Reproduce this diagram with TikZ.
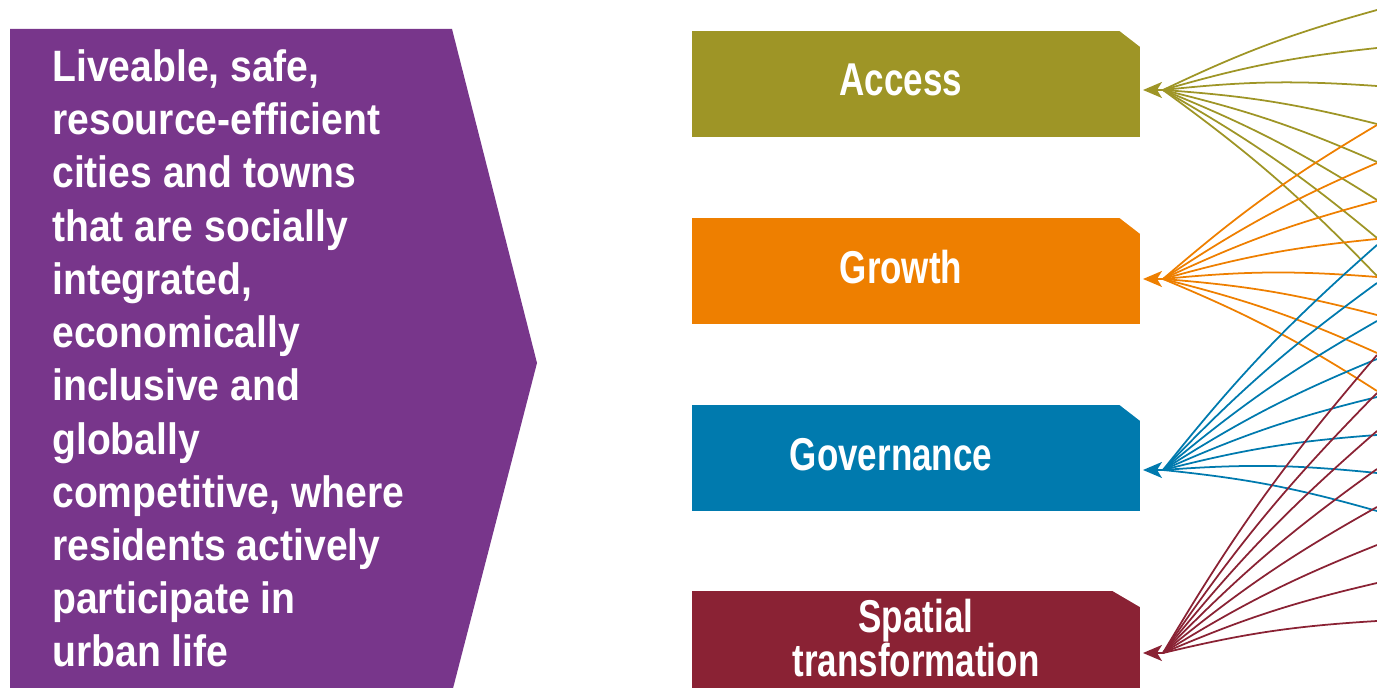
\documentclass[tikz,border=0pt]{standalone}
\usepackage{fontspec}
\setmainfont{Liberation Sans}
\newfontfamily\visionfont[FakeStretch=0.89]{Liberation Sans}
\newfontfamily\pillarfont[FakeStretch=0.76]{Liberation Sans}
\usetikzlibrary{arrows.meta}
\definecolor{visionpurple}{RGB}{120,54,139}
\definecolor{accesscol}{RGB}{158,149,38}
\definecolor{growthcol}{RGB}{238,127,0}
\definecolor{govcol}{RGB}{0,122,174}
\definecolor{spatialcol}{RGB}{138,34,52}
\tikzset{
  pillar/.style={rectangle,fill=#1,minimum width=8.96cm,minimum height=2.12cm,
    inner sep=0pt,anchor=north west},
  pillarlbl/.style={text=white,font=\pillarfont\bfseries\fontsize{26.2}{23.9}\selectfont,
    align=center,inner sep=0pt,anchor=base},
  link/.style={draw=#1,line width=1pt,bend right=5},
  headarrow/.style={draw=#1,line width=1pt,-{Stealth[length=0.38cm,width=0.32cm,inset=0.1cm]}}
}
\begin{document}
\begin{tikzpicture}[x=0.02cm,y=-0.02cm]
  \useasboundingbox (0,0) rectangle (1377,688);
  \clip (0,0) rectangle (1377,688);
  \fill[visionpurple] (10,29) -- (452,29) -- (537,363) -- (450,700) -- (10,700) -- cycle;
  \node[anchor=base west,inner sep=0pt,align=left,text=white,
    font=\visionfont\bfseries\fontsize{25}{30.3}\selectfont] (vision) at (52,667)
    {Liveable, safe,\\resource-efficient\\cities and towns\\that are socially\\integrated,\\economically\\inclusive and\\globally\\competitive, where\\residents actively\\participate in\\urban life};
  \node[pillar=accesscol] (acc) at (692,31) {};
  \node[pillar=growthcol] (gro) at (692,218) {};
  \node[pillar=govcol] (gov) at (692,405) {};
  \node[pillar=spatialcol] (spa) at (692,591) {};
  \foreach \name/\cut in {acc/0.42cm,gro/0.42cm,gov/0.42cm,spa/0.56cm}
    \fill[white] ([xshift=-\cut]\name.north east) -- ([xshift=0.02cm]\name.north east)
      -- ([xshift=0.02cm,yshift=-0.34cm]\name.north east) -- cycle;
  \node[pillarlbl] (acc-lbl) at (901,96) {Access};
  \node[pillarlbl] (gro-lbl) at (901,284) {Growth};
  \node[pillarlbl] (gov-lbl) at (891,471) {Governance};
  \node[pillarlbl] (spa-lbl) at (916,677) {Spatial\\transformation};
  \foreach \name/\col/\ty/\ey in {acc/accesscol/90/10,gro/growthcol/279/125,gov/govcol/470/245,spa/spatialcol/653/355}{
    \coordinate (\name-tip) at (1143,\ty);
    \coordinate (\name-hub) at (1163,\ty);
    \foreach \k in {0,...,7}{
      \coordinate (\name-end\k) at (1377,\ey+38*\k);
      \draw[link=\col] (\name-end\k) to (\name-hub);
    }
    \draw[headarrow=\col] (\name-hub) -- (\name-tip);
  }
\end{tikzpicture}
\end{document}
